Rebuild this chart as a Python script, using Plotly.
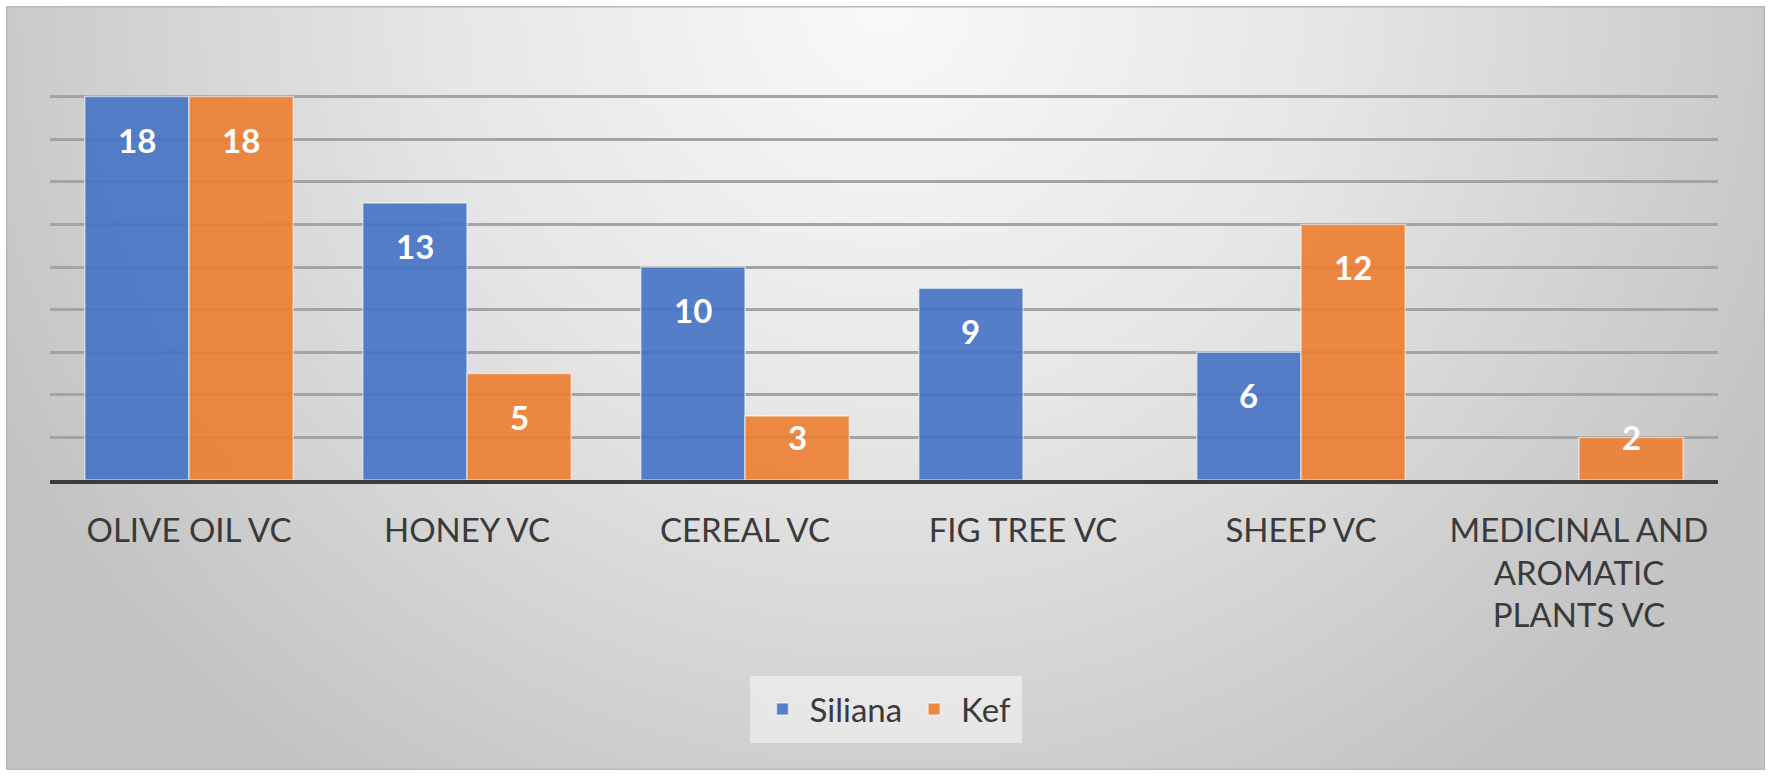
import base64
import plotly.graph_objects as go

# ---------------- data ----------------
categories = ["OLIVE OIL VC", "HONEY VC", "CEREAL VC", "FIG TREE VC", "SHEEP VC",
              "MEDICINAL AND<br>AROMATIC<br>PLANTS VC"]
siliana = [18, 13, 10, 9, 6, None]
kef = [18, 5, 3, None, 12, 2]
series_names = ["Siliana", "Kef"]
y_ticks = list(range(0, 21, 2))

# ---------------- layout geometry ----------------
W, H = 1772, 777
L, R, T, B = 50, 54, 54, 297
plot_w = W - L - R
plot_h = H - T - B
y_max = 20
px_per_unit = plot_h / y_max
bargap = 0.25
cat_px = plot_w / len(categories)
bar_px = cat_px * (1 - bargap) / 2

colors = ["rgba(68,114,196,0.9)", "rgba(237,125,49,0.9)"]
font_family = "Lato, 'Open Sans', sans-serif"
text_color = "#3a3a3a"

fig = go.Figure()
for name, vals, col in zip(series_names, [siliana, kef], colors):
    fig.add_trace(go.Bar(
        name=name, x=categories, y=vals,
        marker=dict(color=col, line=dict(color="rgba(255,255,255,0.55)", width=1.5)),
    ))

# data labels (inside end, white bold)
annotations = []
for si, vals in enumerate([siliana, kef]):
    xshift = (si - 0.5) * bar_px
    for c, v in zip(categories, vals):
        if not v:
            continue
        h = v * px_per_unit
        off = min(43, h - 43)
        annotations.append(dict(
            x=c, y=v, xref="x", yref="y", text=str(v), showarrow=False,
            xshift=xshift, yshift=-off, yanchor="middle", xanchor="center",
            font=dict(family=font_family, size=33, color="white", weight="bold"),
        ))

# background panel with radial gradient
pw, ph = 1759, 764
svg = f'''<svg xmlns="http://www.w3.org/2000/svg" width="{pw}" height="{ph}" viewBox="0 0 {pw} {ph}" preserveAspectRatio="none">
<defs>
<radialGradient id="g" cx="0.5" cy="0.0" r="0.56" gradientTransform="translate(0.5,0) scale(1,2.2) translate(-0.5,0)">
<stop offset="0" stop-color="#f9f9f9"/>
<stop offset="0.45" stop-color="#e6e6e6"/>
<stop offset="1" stop-color="#c3c3c3"/>
</radialGradient>
</defs>
<rect x="0" y="0" width="{pw}" height="{ph}" fill="url(#g)"/>
<rect x="0.75" y="0.75" width="{pw-1.5}" height="{ph-1.5}" fill="none" stroke="#b8b8b8" stroke-width="1.5"/>
</svg>'''
src = "data:image/svg+xml;base64," + base64.b64encode(svg.encode()).decode()
panel_x0, panel_y0 = 6, 6
img = dict(
    source=src, xref="paper", yref="paper",
    x=(panel_x0 - L) / plot_w, y=(H - B - panel_y0) / plot_h,
    sizex=pw / plot_w, sizey=ph / plot_h,
    xanchor="left", yanchor="top", sizing="stretch", layer="below",
)

legend_cx, legend_top = 886, 670
legend_bg = "rgba(236,236,236,0.8)"

fig.update_layout(
    width=W, height=H,
    margin=dict(l=L, r=R, t=T, b=B, autoexpand=False),
    paper_bgcolor="white", plot_bgcolor="rgba(0,0,0,0)",
    images=[img],
    barmode="group", bargap=bargap, bargroupgap=0,
    annotations=annotations,
    showlegend=True,
    legend=dict(
        orientation="h", x=(legend_cx - L) / plot_w, xanchor="center",
        y=(H - B - legend_top) / plot_h, yanchor="top",
        bgcolor=legend_bg, bordercolor="rgba(236,236,236,0.0)", borderwidth=11,
        font=dict(family=font_family, size=33, color=text_color),
        itemwidth=44, traceorder="normal",
    ),
    font=dict(family=font_family, color=text_color),
)
fig.update_xaxes(
    showline=True, linecolor="#3c3c3c", linewidth=4,
    showgrid=False, ticks="outside", ticklen=18, tickcolor="rgba(0,0,0,0)",
    tickfont=dict(family=font_family, size=33, color=text_color),
    tickangle=0,
)
fig.update_yaxes(
    range=[0, y_max], tickvals=y_ticks, showticklabels=False,
    showgrid=True, gridcolor="#a4a4a4", gridwidth=2.5,
    zeroline=False, showline=False, ticks="",
)

fig.write_html("out.html", config={"displayModeBar": False},
               post_script="document.body.style.margin='0';document.body.style.padding='0';")
